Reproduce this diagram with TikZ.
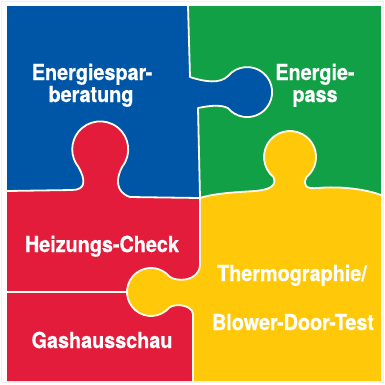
\documentclass[tikz,border=0pt]{standalone}
\usepackage{fontspec}
\usepackage{xcolor}
\usepackage{tikz}
\usetikzlibrary{positioning}

\newfontfamily\puzzlefont{TeX Gyre Heros}[FakeStretch=0.9,FakeBold=0.6]

\definecolor{puzzleblue}{RGB}{0,86,166}
\definecolor{puzzlegreen}{RGB}{18,160,70}
\definecolor{puzzlered}{RGB}{226,28,58}
\definecolor{puzzleyellow}{RGB}{255,200,8}

% edges between the pieces, all ending or starting in the middle (200,198)
\newcommand{\edgeBG}{(188,6) -- (190,77) .. controls (205,82) and (220,84) .. (228,76) arc[start angle=-140, end angle=140, radius=25] .. controls (220,104) and (208,106) .. (198,108) -- (200,198)}
\newcommand{\edgeBR}{(200,198) -- (130,197) .. controls (115,192) and (116,178) .. (122.3,166.6) arc[start angle=38, end angle=-218, radius=28] .. controls (86,180) and (86,190) .. (72,190) -- (7,191)}
\newcommand{\edgeGY}{(200,198) .. controls (215,193) and (240,192) .. (255,191) .. controls (268,190) and (278,186) .. (273.3,176.9) arc[start angle=130, end angle=410, radius=26] .. controls (302,186) and (306,189) .. (318,188) .. controls (340,186) and (365,189) .. (381,195)}
\newcommand{\edgeRY}{(193,381) -- (193,314) .. controls (192,305) and (176,303) .. (169.4,307.4) arc[start angle=40, end angle=320, radius=24] .. controls (176,282) and (199,282) .. (200,265) -- (200,198)}

\begin{document}
\begin{tikzpicture}[x=1pt,y=-1pt]
	\tikzstyle{seam}=[draw=white!94!yellow,line width=1.8pt,line join=round]
	\tikzstyle{piecetext}=[text=white,font=\puzzlefont\bfseries\fontsize{22}{24}\selectfont,anchor=base,inner sep=0pt]
	\useasboundingbox (0,0) rectangle (385,384);
	\fill[white] (0,0) rectangle (385,384);
	\draw[gray!12,line width=1.5pt] (1.5,1.5) rectangle (383.5,382.5);
	% pieces
	\fill[puzzlegreen] (7,6) rectangle (381,381);
	\fill[puzzleyellow] \edgeGY -- (381,381) -- \edgeRY -- cycle;
	\fill[puzzleblue] (7,6) -- \edgeBG -- \edgeBR -- cycle;
	\fill[puzzlered] \edgeRY -- \edgeBR -- (7,381) -- cycle;
	% seams
	\draw[seam] \edgeBG;
	\draw[seam] \edgeBR;
	\draw[seam] \edgeGY;
	\draw[seam] \edgeRY;
	\draw[seam] (7,292) -- (127,292);
	% texts
	\node[piecetext](spar) at (92,80){Energiespar-};
	\node[piecetext](beratung) at (91,102){beratung};
	\node[piecetext](energie) at (315,80){Energie-};
	\node[piecetext](pass) at (315,102){pass};
	\node[piecetext](heizung) at (102,252){Heizungs-Check};
	\node[piecetext](thermo) at (292,281){Thermographie/};
	\node[piecetext](blower) at (293,330){Blower-Door-Test};
	\node[piecetext](gas) at (102,348){Gashausschau};
\end{tikzpicture}
\end{document}
